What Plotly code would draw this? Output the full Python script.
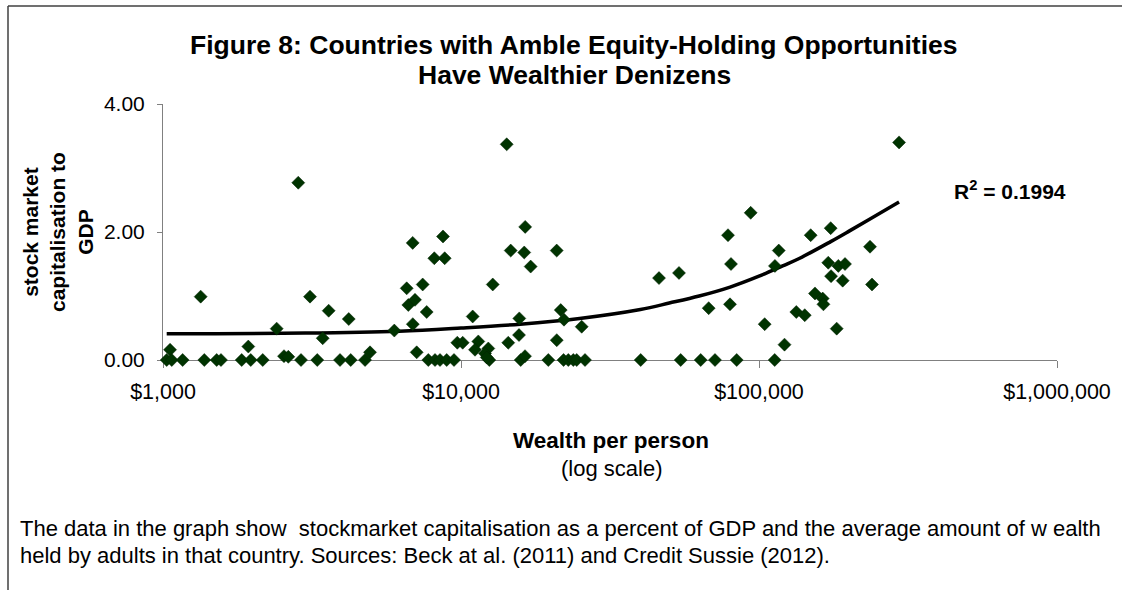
import numpy as np
import plotly.graph_objects as go

# ---- data ----
wealth = [
    1056, 1029, 1070, 1164, 1338, 1376, 1514, 1565, 1837, 1933,
    1970, 2161, 2407, 2547, 2633, 2844, 2905, 3114, 3294, 3435,
    3597, 3926, 4201, 4265, 4764, 4951, 5973, 6574, 6656, 7008,
    6885, 6890, 7101, 7438, 7672, 8136, 8702, 8817, 7767, 8181,
    8503, 8954, 9474, 9719, 10132, 10946, 11431, 11143, 12350, 12036,
    12445, 12200, 12780, 14235, 14410, 14683, 15654, 15690, 15860, 16400,
    16420, 16300, 17130, 19634, 20950, 20960, 21610, 22160, 22090, 22910,
    23820, 24450, 26070, 25410, 40090, 46180, 53890, 54600, 63740, 67790,
    71170, 78700, 80540, 79920, 84180, 93780, 104500, 112900, 116500, 113100,
    121800, 133400, 142400, 149100, 154100, 163600, 164500, 174000, 170800, 174500,
    182300, 184600, 194400, 190900, 235800, 239400, 295100,
]
mcap = [
    0.16, 0, 0, 0, 0.99, 0, 0, 0, 0, 0.21,
    0, 0, 0.49, 0.06, 0.05, 2.77, 0, 0.99, 0, 0.34,
    0.77, 0, 0.64, 0, 0, 0.12, 0.46, 1.12, 0.86, 0.94,
    1.83, 0.56, 0.12, 1.18, 0.75, 1.59, 1.93, 1.59, 0, 0,
    0, 0, 0, 0.27, 0.27, 0.68, 0.29, 0.16, 0.18, 0.10,
    0, 0.04, 1.18, 3.37, 0.27, 1.71, 0.39, 0.65, 0, 0.06,
    2.08, 1.68, 1.46, 0, 1.71, 0.31, 0.78, 0.63, 0, 0,
    0, 0, 0, 0.52, 0, 1.28, 1.36, 0, 0, 0.81,
    0, 1.95, 1.50, 0.87, 0, 2.30, 0.56, 0, 1.71, 1.47,
    0.24, 0.75, 0.70, 1.95, 1.04, 0.96, 0.87, 2.06, 1.52, 1.31,
    0.49, 1.47, 1.50, 1.24, 1.77, 1.18, 3.40,
]
# trend line (order-2 polynomial in the original)
trend_wealth = [1029, 3000, 6200, 10000, 15800, 25000, 40000, 50000, 63000, 80000,
                100000, 120000, 137000, 174000, 200000, 235000, 295100]
trend_level = [0.41, 0.42, 0.45, 0.50, 0.56, 0.65, 0.79, 0.89, 1.00, 1.14,
               1.31, 1.47, 1.59, 1.85, 2.01, 2.20, 2.47]

x_tick_vals = [1000, 10000, 100000, 1000000]
x_tick_text = ["$1,000", "$10,000", "$100,000", "$1,000,000"]
y_tick_vals = [0, 2, 4]
y_tick_text = ["0.00", "2.00", "4.00"]

title_lines = ["Figure 8: Countries with Amble Equity-Holding Opportunities",
               "Have Wealthier Denizens"]
y_title = "stock market<br>capitalisation to<br>GDP"
x_title = "Wealth per person"
x_subtitle = "(log scale)"
r2_text = "R<sup>2</sup> = 0.1994"
caption_lines = [
    "The data in the graph show  stockmarket capitalisation as a percent of GDP and the average amount of w ealth",
    "held by adults in that country. Sources: Beck at al. (2011) and Credit Sussie (2012).",
]

W, H = 1122, 590
L, R, T, B = 163, 65, 104, 230
PW, PH = W - L - R, H - T - B


def px(x):
    return (x - L) / PW


def py(y):
    return (H - B - y) / PH


FONT = "Liberation Sans, Arial, sans-serif"

fig = go.Figure()
fig.add_trace(go.Scatter(
    x=trend_wealth, y=trend_level, mode="lines",
    line=dict(color="black", width=3.5, shape="spline", smoothing=1.0),
    hoverinfo="skip", showlegend=False, cliponaxis=False,
))
fig.add_trace(go.Scatter(
    x=wealth, y=mcap, mode="markers",
    marker=dict(symbol="diamond", size=10, color="#003300",
                line=dict(color="#002000", width=0.5)),
    showlegend=False, cliponaxis=False,
))

annotations = []
annotations.append(dict(text="<b>%s</b>" % title_lines[0], x=px(574), y=py(45),
                        font=dict(size=26.5, color="black", family=FONT)))
annotations.append(dict(text="<b>%s</b>" % title_lines[1], x=px(574), y=py(75),
                        font=dict(size=26.5, color="black", family=FONT)))
annotations.append(dict(text="<b>%s</b>" % y_title, x=px(58), y=py(232), textangle=-90,
                        font=dict(size=21, color="black", family=FONT)))
annotations.append(dict(text="<b>%s</b>" % x_title, x=px(611), y=py(440),
                        font=dict(size=22.5, color="black", family=FONT)))
annotations.append(dict(text=x_subtitle, x=px(611), y=py(468),
                        font=dict(size=22, color="black", family=FONT)))
annotations.append(dict(text="<b>%s</b>" % r2_text, x=px(952), y=py(190), xanchor="left",
                        font=dict(size=21, color="black", family=FONT)))
for i, line in enumerate(caption_lines):
    annotations.append(dict(text=line, x=px(18), y=py(528 + 27 * i), xanchor="left",
                            font=dict(size=22, color="black", family=FONT)))
for a in annotations:
    a.update(xref="paper", yref="paper", showarrow=False)
    a.setdefault("xanchor", "center")
    a.setdefault("yanchor", "middle")

shapes = [
    dict(type="line", xref="paper", yref="paper", x0=px(8), y0=py(6), x1=px(1125), y1=py(6),
         line=dict(color="#404040", width=1.5)),
    dict(type="line", xref="paper", yref="paper", x0=px(8), y0=py(6), x1=px(8), y1=py(595),
         line=dict(color="#404040", width=1.5)),
]

fig.update_layout(
    width=W, height=H,
    margin=dict(l=L, r=R, t=T, b=B, pad=0),
    paper_bgcolor="white", plot_bgcolor="white",
    font=dict(family=FONT, color="black", size=20),
    annotations=annotations, shapes=shapes,
    xaxis=dict(type="log", range=[3, 6], tickvals=x_tick_vals, ticktext=x_tick_text,
               ticks="outside", ticklen=7, tickcolor="#808080", showline=True,
               linecolor="#808080", linewidth=1, showgrid=False, zeroline=False,
               tickfont=dict(size=21.5, color="black", family=FONT), layer="below traces",
               ticklabelstandoff=5),
    yaxis=dict(range=[0, 4], tickvals=y_tick_vals, ticktext=y_tick_text,
               ticks="outside", ticklen=5, tickcolor="#808080", showline=True,
               linecolor="#808080", linewidth=1, showgrid=False, zeroline=False,
               tickfont=dict(size=21, color="black", family=FONT), layer="below traces",
               ticklabelstandoff=8),
)

fig.write_html("out.html", config={"displayModeBar": False},
               post_script="document.body.style.margin='0';document.body.style.overflow='hidden';")
